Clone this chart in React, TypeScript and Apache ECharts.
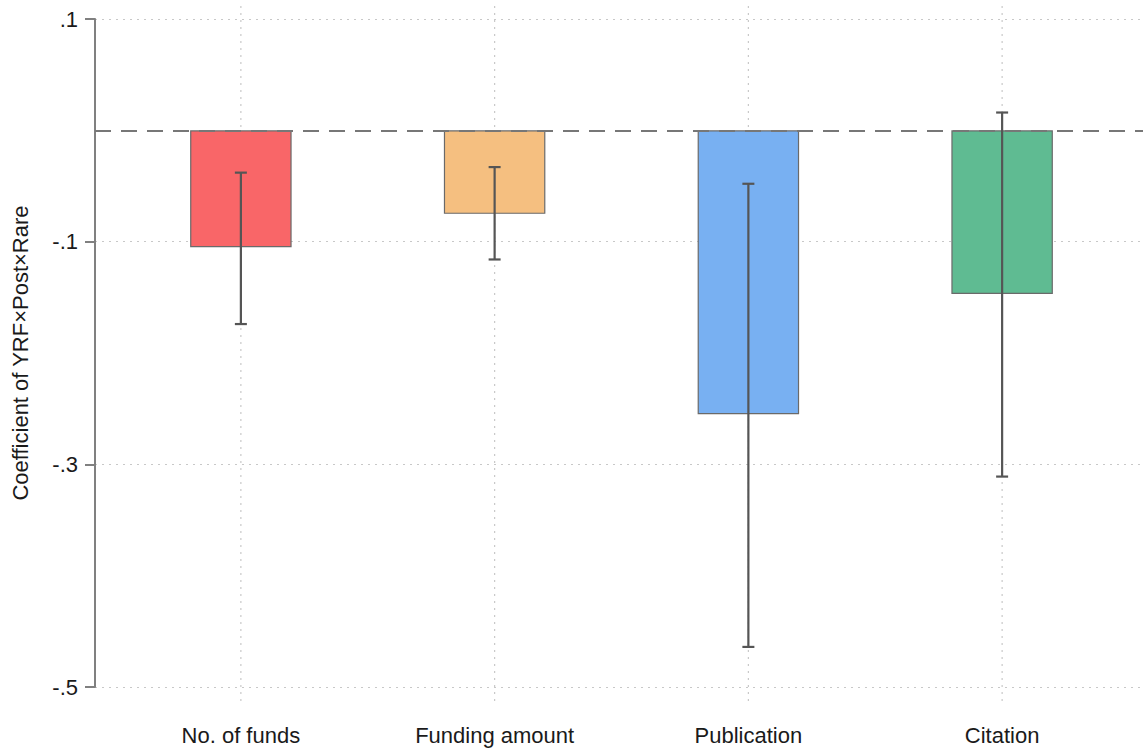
import React, { useEffect, useRef } from "react";
import * as echarts from "echarts";

// Outcome categories and estimated coefficients with 95% CIs
const categories = ["No. of funds", "Funding amount", "Publication", "Citation"];
const coefficients = [-0.105, -0.075, -0.255, -0.147];
const ciLower = [-0.174, -0.116, -0.464, -0.311];
const ciUpper = [-0.038, -0.033, -0.048, 0.016];
const barColors = ["#F96668", "#F5BF80", "#78B0F2", "#5FBB92"];

const Y_MIN = -0.5;
const Y_MAX = 0.1;
const Y_STEP = 0.2;

const fmtTick = (v: number) => {
  const s = (Math.round(v * 10) / 10).toFixed(1);
  return s.replace(/^(-?)0\./, "$1.");
};

export default function App() {
  const ref = useRef<HTMLDivElement>(null);

  useEffect(() => {
    document.body.style.margin = "0";
    if (!ref.current) return;
    const chart = echarts.init(ref.current, undefined, { renderer: "svg" });

    const font = "'Liberation Sans', Arial, sans-serif";
    const gridTop = 19;
    const gridBottom = 66;

    chart.setOption({
      animation: false,
      backgroundColor: "#ffffff",
      textStyle: { fontFamily: font },
      grid: [
        { left: 95, right: 0, top: gridTop, bottom: gridBottom },
        { left: 114, right: 14, top: gridTop, bottom: gridBottom },
      ],
      xAxis: [
        { type: "value", gridIndex: 0, min: 0, max: 1, show: false },
        {
          type: "category",
          gridIndex: 1,
          data: categories,
          axisLine: { show: false },
          axisTick: { show: false },
          splitLine: { show: false },
          axisLabel: { fontSize: 22, color: "#1a1a1a", margin: 37, fontFamily: font },
        },
      ],
      yAxis: [
        {
          type: "value",
          gridIndex: 0,
          min: Y_MIN,
          max: Y_MAX,
          interval: Y_STEP,
          name: "Coefficient of YRF×Post×Rare",
          nameLocation: "middle",
          nameRotate: 90,
          nameGap: 64,
          nameTextStyle: { fontSize: 22, color: "#1a1a1a", fontFamily: font },
          axisLine: { show: true, onZero: false, lineStyle: { color: "#808080", width: 2 } },
          axisTick: { show: true, length: 10, lineStyle: { color: "#808080", width: 2 } },
          axisLabel: {
            fontSize: 22,
            color: "#1a1a1a",
            margin: 17,
            fontFamily: font,
            formatter: (v: number) => fmtTick(v),
          },
          splitLine: { show: true, lineStyle: { color: "#c8c8c8", type: [2, 5], width: 1.2 } },
        },
        { type: "value", gridIndex: 1, min: Y_MIN, max: Y_MAX, show: false },
      ],
      series: [
        {
          name: "zero",
          type: "line",
          xAxisIndex: 0,
          yAxisIndex: 0,
          data: [],
          z: 6,
          silent: true,
          markLine: {
            symbol: "none",
            silent: true,
            label: { show: false },
            lineStyle: { color: "#777", width: 2.2, type: [16, 10] },
            data: [{ yAxis: 0 }],
          },
        },
        {
          name: "coef",
          type: "bar",
          xAxisIndex: 1,
          yAxisIndex: 1,
          barWidth: "40%",
          z: 3,
          data: coefficients.map((v, i) => ({
            value: v,
            itemStyle: { color: barColors[i], borderColor: "#6a6a6a", borderWidth: 1.2 },
          })),
        },
        {
          name: "ci",
          type: "custom",
          xAxisIndex: 1,
          yAxisIndex: 1,
          z: 5,
          data: categories.map((_, i) => [i, ciLower[i], ciUpper[i]]),
          renderItem: (params: any, api: any) => {
            const lo = api.coord([api.value(0), api.value(1)]);
            const hi = api.coord([api.value(0), api.value(2)]);
            const cap = 6;
            const style = { stroke: "#555", lineWidth: 2.2 };
            return {
              type: "group",
              children: [
                { type: "line", shape: { x1: lo[0], y1: lo[1], x2: hi[0], y2: hi[1] }, style },
                { type: "line", shape: { x1: lo[0] - cap, y1: lo[1], x2: lo[0] + cap, y2: lo[1] }, style },
                { type: "line", shape: { x1: hi[0] - cap, y1: hi[1], x2: hi[0] + cap, y2: hi[1] }, style },
              ],
            };
          },
        },
      ],
    });

    // Vertical dotted guides at each category position
    const h = ref.current.clientHeight;
    const guides = categories.map((c) => {
      const x = chart.convertToPixel({ xAxisIndex: 1 }, c) as number;
      return {
        type: "line",
        z: 1,
        silent: true,
        shape: { x1: x, y1: 6, x2: x, y2: h - 48 },
        style: { stroke: "#c8c8c8", lineWidth: 1.2, lineDash: [2, 5] },
      };
    });
    chart.setOption({ graphic: guides });

    return () => chart.dispose();
  }, []);

  return <div ref={ref} style={{ width: 1143, height: 753 }} />;
}
